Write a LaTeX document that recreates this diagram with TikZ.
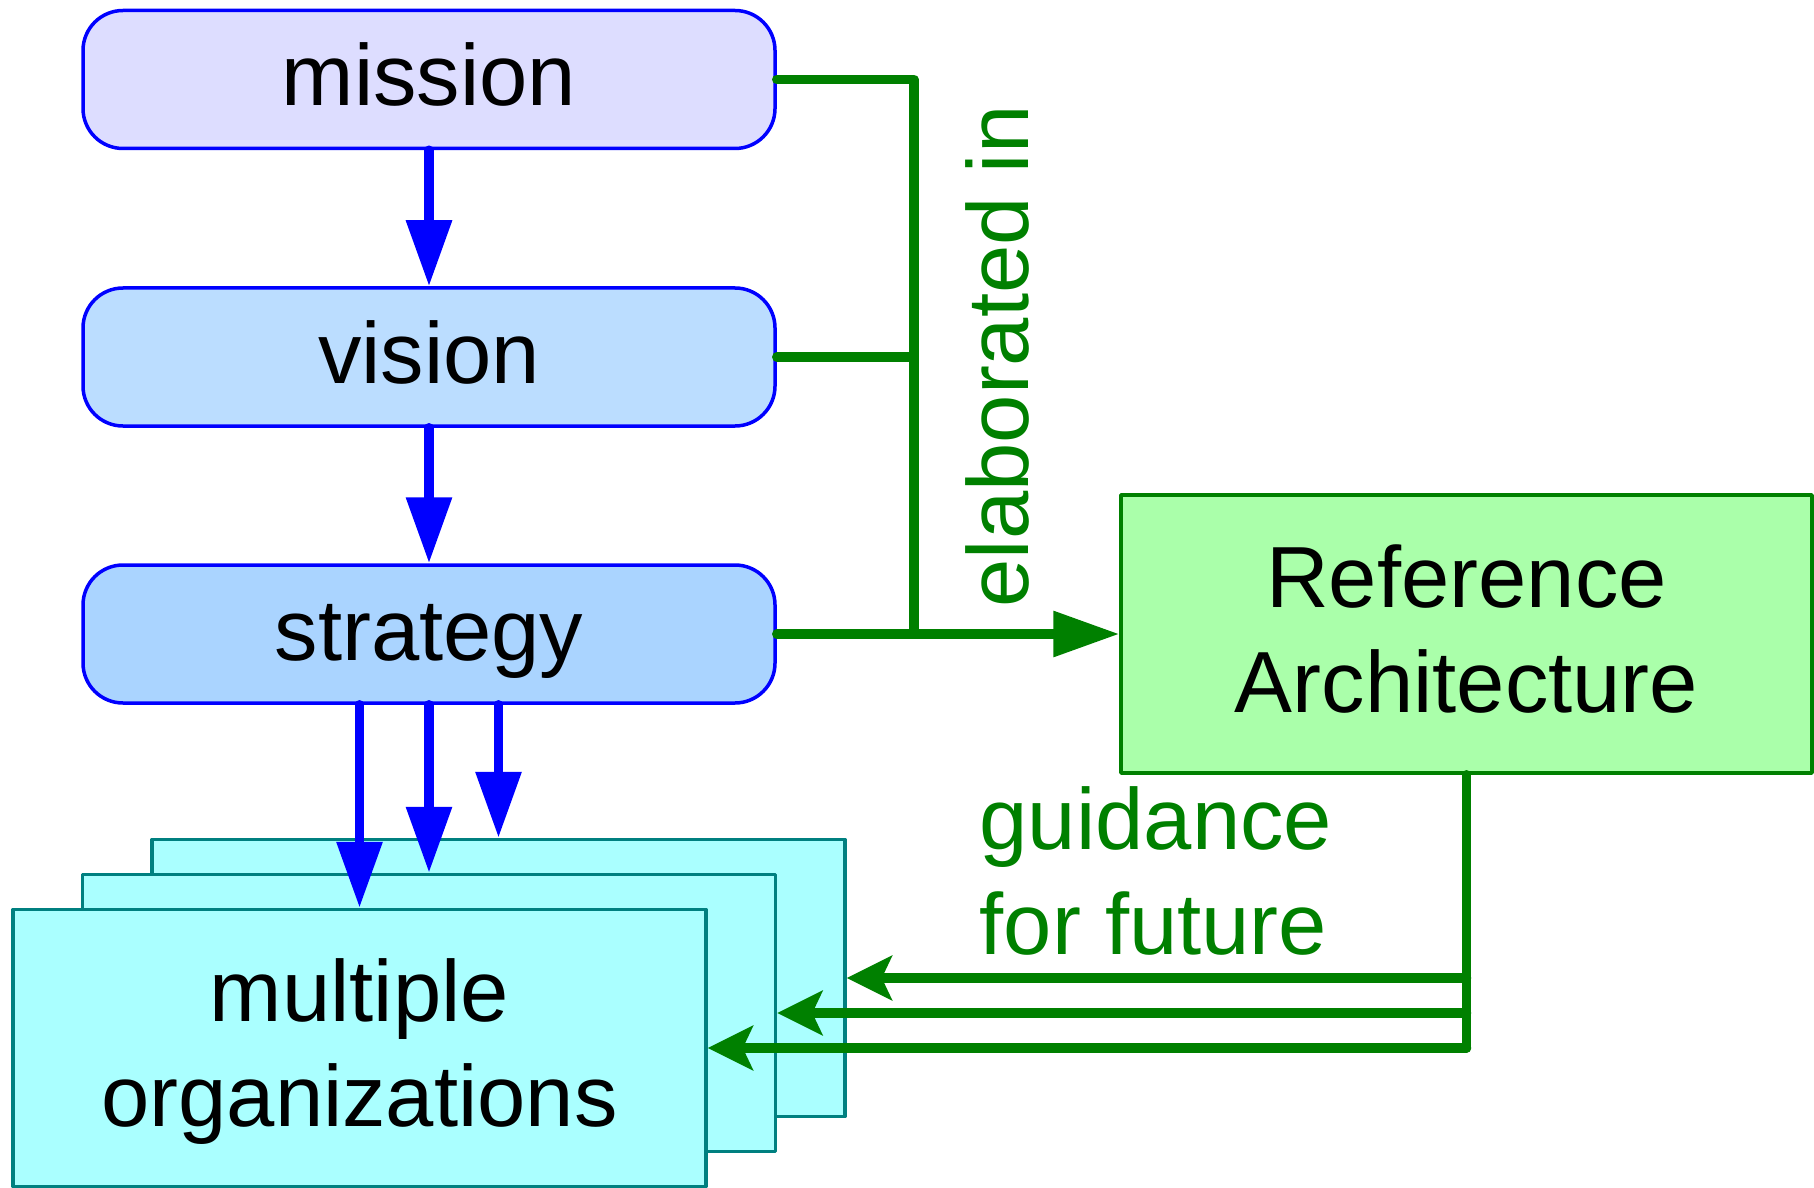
\documentclass[tikz,border=0pt]{standalone}
\usepackage{fontspec}
\setmainfont{Liberation Sans}
\usetikzlibrary{arrows.meta}

\definecolor{missionfill}{RGB}{221,221,255}
\definecolor{visionfill}{RGB}{187,221,255}
\definecolor{strategyfill}{RGB}{170,212,255}
\definecolor{orgfill}{RGB}{170,255,255}
\definecolor{orgline}{RGB}{0,128,128}
\definecolor{archfill}{RGB}{170,255,170}
\definecolor{darkgreen}{RGB}{0,128,0}

\tikzset{
  bigfont/.style = {font = \fontsize{24.7}{30}\selectfont},
  goal/.style = {bigfont, draw = blue, line width = 0.035cm,
    rounded corners = 0.4cm, minimum width = 6.92cm, minimum height = 1.38cm,
    text height = 19.8pt, text depth = 4.9pt},
  orgbox/.style = {bigfont, draw = orgline, fill = orgfill, line width = 0.035cm,
    minimum width = 6.93cm, minimum height = 2.77cm, align = center},
  archbox/.style = {bigfont, draw = darkgreen, fill = archfill, line width = 0.035cm,
    minimum width = 6.91cm, minimum height = 2.78cm, align = center},
  down/.style = {draw = blue, line width = 0.095cm,
    -{Triangle[length = 0.66cm, width = 0.44cm]}},
  flow/.style = {draw = darkgreen, line width = 0.095cm},
  feedback/.style = {flow, -{Stealth[length = 0.45cm, width = 0.44cm, inset = 0.1cm]}}
}

\begin{document}
\begin{tikzpicture}[line cap = round, line join = round]
  \useasboundingbox (0, 0) rectangle (18.14, -11.87);

  % goals
  \node[goal, fill = missionfill] (mission) at (4.29, -0.795) {mission};
  \node[goal, fill = visionfill] (vision) at (4.29, -3.57) {vision};
  \node[goal, fill = strategyfill] (strategy) at (4.29, -6.34) {strategy};

  % stack of organizations, back to front
  \node[orgbox] (back) at (4.985, -9.78) {};
  \node[orgbox] (middle) at (4.29, -10.13) {};
  \node[orgbox] (front) at (3.595, -10.48)
    {\rule{0pt}{0.81em}multiple\\organizations};

  \node[archbox] (arch) at (14.665, -6.34)
    {Reference\\Architecture\rule[-0.12em]{0pt}{0pt}};

  \draw[down] (mission.south) -- (vision.north);
  \draw[down] (vision.south) -- (strategy.north);
  \draw[down] (strategy.south -| front.north) -- (front.north);
  \draw[down] (strategy.south -| middle.north) -- (middle.north);
  \draw[down] (strategy.south -| back.north) -- (back.north);

  % elaborated in
  \coordinate (split) at (9.14, 0);
  \draw[flow] (mission.east) -- (mission.east -| split) -- (strategy.east -| split);
  \draw[flow] (vision.east) -- (vision.east -| split);
  \draw[flow, -{Triangle[length = 0.66cm, width = 0.44cm]}] (strategy.east) -- (arch.west);
  \node[bigfont, text = darkgreen, rotate = 90, anchor = base west, inner sep = 0]
    (elab) at (10.28, -6.08) {elaborated in};

  % guidance
  \draw[flow] (arch.south) -- (arch.south |- front.east);
  \draw[feedback] (arch.south |- back.east) -- (back.east);
  \draw[feedback] (arch.south |- middle.east) -- (middle.east);
  \draw[feedback] (arch.south |- front.east) -- (front.east);
  \node[bigfont, text = darkgreen, align = left, anchor = west, inner sep = 0]
    (guide) at (9.79, -8.71) {guidance\\for future};
\end{tikzpicture}
\end{document}
